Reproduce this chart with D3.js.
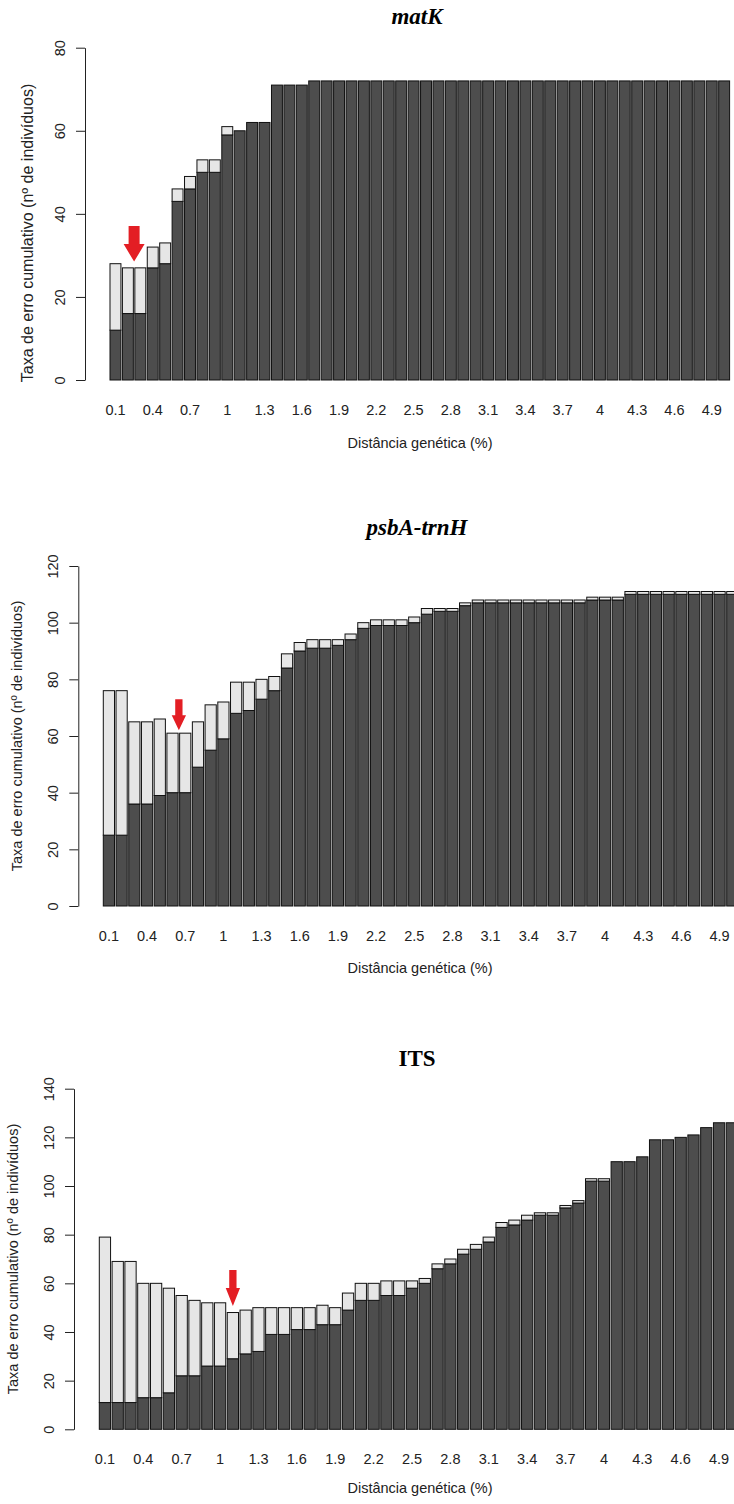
<!DOCTYPE html>
<html>
<head>
<meta charset="utf-8">
<title>Taxa de erro cumulativo</title>
<script src="https://d3js.org/d3.v7.min.js"></script>
<style>
body { margin: 0; background: #fff; }
svg { display: block; font-family: Arial, 'Liberation Sans', sans-serif; }
.tick text { fill: #222; }
</style>
</head>
<body>
<svg id="chart" width="734" height="1504"></svg>
<script>
// distancias geneticas (%) 0.1 .. 5.0
var distances = ["0.1","0.2","0.3","0.4","0.5","0.6","0.7","0.8","0.9","1",
  "1.1","1.2","1.3","1.4","1.5","1.6","1.7","1.8","1.9","2",
  "2.1","2.2","2.3","2.4","2.5","2.6","2.7","2.8","2.9","3",
  "3.1","3.2","3.3","3.4","3.5","3.6","3.7","3.8","3.9","4",
  "4.1","4.2","4.3","4.4","4.5","4.6","4.7","4.8","4.9","5"];
// labels R kept on the x axis
var xTickLabels = ["0.1","0.4","0.7","1","1.3","1.6","1.9","2.2","2.5","2.8","3.1","3.4","3.7","4","4.3","4.6","4.9"];

// matK
var matkTotal = [28,27,27,32,33,46,49,53,53,61,60,62,62,71,71,71,72,72,72,72,
  72,72,72,72,72,72,72,72,72,72,72,72,72,72,72,72,72,72,72,72,
  72,72,72,72,72,72,72,72,72,72];
var matkDark = [12,16,16,27,28,43,46,50,50,59,60,62,62,71,71,71,72,72,72,72,
  72,72,72,72,72,72,72,72,72,72,72,72,72,72,72,72,72,72,72,72,
  72,72,72,72,72,72,72,72,72,72];
var matkYTicks = [0,20,40,60,80];

// psbA-trnH
var psbaTotal = [76,76,65,65,66,61,61,65,71,72,79,79,80,81,89,93,94,94,94,96,
  100,101,101,101,102,105,105,105,107,108,108,108,108,108,108,108,108,108,109,109,
  109,111,111,111,111,111,111,111,111,111];
var psbaDark = [25,25,36,36,39,40,40,49,55,59,68,69,73,76,84,90,91,91,92,94,
  98,99,99,99,100,103,104,104,106,107,107,107,107,107,107,107,107,107,108,108,
  108,110,110,110,110,110,110,110,110,110];
var psbaYTicks = [0,20,40,60,80,100,120];

// ITS
var itsTotal = [79,69,69,60,60,58,55,53,52,52,48,49,50,50,50,50,50,51,50,56,
  60,60,61,61,61,62,68,70,74,76,79,85,86,88,89,89,92,94,103,103,
  110,110,112,119,119,120,121,124,126,126];
var itsDark = [11,11,11,13,13,15,22,22,26,26,29,31,32,39,39,41,41,43,43,49,
  53,53,55,55,58,60,66,68,72,74,77,83,84,86,88,88,91,93,102,102,
  110,110,112,119,119,120,121,124,126,126];
var itsYTicks = [0,20,40,60,80,100,120,140];

// red arrows: bar index (can be between bars) and value at the tip
var arrowIndex = [1.5, 5.5, 10];
var arrowTip = [28.5, 62, 50.7];

var panels = [
  {title: "matK", italic: true, total: matkTotal, dark: matkDark, yTicks: matkYTicks,
   axisX: 85, x0: 110, x1: 729.6, y0: 380, y1: 47.7, titleY: 24, xTitleY: 448, yTitleX: 28, yTitleY: 233, yTitleSize: 16,
   arrow: {w: 11, hw: 21, len: 35.6, hl: 17.6}},
  {title: "psbA-trnH", italic: true, total: psbaTotal, dark: psbaDark, yTicks: psbaYTicks,
   axisX: 78.3, x0: 103.3, x1: 737.9, y0: 906, y1: 566, titleY: 535, xTitleY: 973, yTitleX: 16.7, yTitleY: 736, yTitleSize: 14.5,
   arrow: {w: 7.3, hw: 14.3, len: 31, hl: 15}},
  {title: "ITS", italic: false, total: itsTotal, dark: itsDark, yTicks: itsYTicks,
   axisX: 74, x0: 99.3, x1: 737.5, y0: 1429.3, y1: 1088.7, titleY: 1066, xTitleY: 1493, yTitleX: 12.7, yTitleY: 1259, yTitleSize: 14.5,
   arrow: {w: 7.3, hw: 14.3, len: 36, hl: 18}}
];

var svg = d3.select("#chart");

panels.forEach(function(p, k){
  var g = svg.append("g");
  var x = d3.scaleBand().domain(distances).range([p.x0, p.x1]).paddingInner(0.12).paddingOuter(0);
  var yMax = d3.max(p.yTicks);
  var y = d3.scaleLinear().domain([0, yMax]).range([p.y0, p.y1]);

  var rows = distances.map(function(d, i){ return {d: d, total: p.total[i], dark: p.dark[i]}; });

  // dark part (bottom)
  g.selectAll("rect.dark").data(rows).enter().append("rect")
    .attr("class", "dark")
    .attr("x", function(r){ return x(r.d); })
    .attr("width", x.bandwidth())
    .attr("y", function(r){ return y(r.dark); })
    .attr("height", function(r){ return y(0) - y(r.dark); })
    .attr("fill", "#4d4d4d").attr("stroke", "#111").attr("stroke-width", 1);

  // light part (top)
  g.selectAll("rect.light").data(rows.filter(function(r){ return r.total > r.dark; })).enter().append("rect")
    .attr("class", "light")
    .attr("x", function(r){ return x(r.d); })
    .attr("width", x.bandwidth())
    .attr("y", function(r){ return y(r.total); })
    .attr("height", function(r){ return y(r.dark) - y(r.total); })
    .attr("fill", "#e6e6e6").attr("stroke", "#111").attr("stroke-width", 1);

  // y axis, R style
  var yAxis = g.append("g")
    .attr("transform", "translate(" + p.axisX + ",0)")
    .call(d3.axisLeft(y).tickValues(p.yTicks).tickSize(9).tickSizeOuter(0).tickFormat(d3.format("d")));
  yAxis.select(".domain").attr("stroke", "#222");
  yAxis.selectAll(".tick line").attr("stroke", "#222");
  yAxis.selectAll(".tick text")
    .attr("transform", "rotate(-90)")
    .attr("x", 0).attr("y", -20).attr("dy", 0)
    .attr("text-anchor", "middle")
    .style("font-size", "14.5px");

  // x labels (no axis line)
  var xAxis = g.append("g")
    .attr("transform", "translate(0," + p.y0 + ")")
    .call(d3.axisBottom(x).tickValues(xTickLabels).tickSize(0));
  xAxis.select(".domain").remove();
  xAxis.selectAll(".tick text").attr("y", 35).attr("dy", 0).style("font-size", "14.5px");

  // titles
  g.append("text")
    .attr("x", 417).attr("y", p.titleY)
    .attr("text-anchor", "middle")
    .style("font-family", "'Liberation Serif', 'Times New Roman', serif")
    .style("font-weight", "bold")
    .style("font-style", p.italic ? "italic" : "normal")
    .style("font-size", "23px")
    .text(p.title);

  g.append("text")
    .attr("x", 420).attr("y", p.xTitleY)
    .attr("text-anchor", "middle")
    .attr("fill", "#222")
    .style("font-size", "14.5px")
    .text("Distância genética (%)");

  g.append("text")
    .attr("transform", "translate(" + (p.yTitleX + 5) + "," + p.yTitleY + ") rotate(-90)")
    .attr("text-anchor", "middle")
    .attr("fill", "#222")
    .style("font-size", p.yTitleSize + "px")
    .text("Taxa de erro cumulativo (nº de indivíduos)");

  // red arrow
  var a = p.arrow;
  var ax = x(distances[0]) + x.step() * arrowIndex[k] + x.bandwidth() / 2;
  var tip = y(arrowTip[k]);
  var top = tip - a.len, neck = tip - a.hl;
  var pts = [[ax - a.w/2, top], [ax + a.w/2, top], [ax + a.w/2, neck], [ax + a.hw/2, neck],
             [ax, tip], [ax - a.hw/2, neck], [ax - a.w/2, neck]];
  g.append("path")
    .attr("d", d3.line()(pts) + "Z")
    .attr("fill", "#e31e24");
});
</script>
</body>
</html>
